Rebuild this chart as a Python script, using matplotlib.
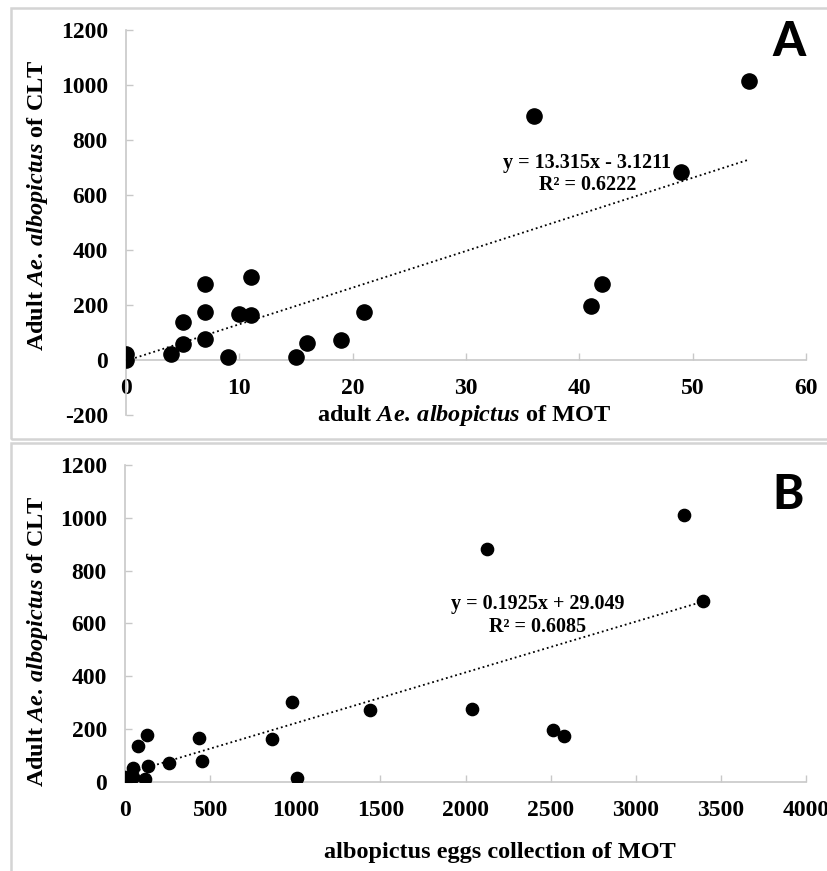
import matplotlib
matplotlib.use("Agg")
import numpy as np
import matplotlib.pyplot as plt
from matplotlib.patches import Rectangle

# panel A: adult counts of MOT vs adult counts of CLT
mot_adult = [0, 0, 4, 5, 5, 7, 7, 7, 9, 10, 11, 11, 15, 16, 19, 21, 36, 55, 49, 42, 41]
clt_adult_a = [20, 0, 20, 137, 58, 275, 175, 76, 12, 167, 303, 162, 12, 63, 72, 175,
               886, 1013, 685, 276, 195]
fit_a = (13.315, -3.1211)
eq_a = ["y = 13.315x - 3.1211", "R² = 0.6222"]

# panel B: egg collection of MOT vs adult counts of CLT
mot_eggs = [0, 0, 49, 49, 117, 137, 78, 131, 260, 435, 454, 863, 979, 1010, 1439,
            2128, 3285, 3397, 2040, 2516, 2579]
clt_adult_b = [19, 0, 53, 17, 10, 61, 135, 177, 72, 167, 78, 163, 302, 13, 273,
               883, 1009, 683, 277, 195, 173]
fit_b = (0.1925, 29.049)
eq_b = ["y = 0.1925x + 29.049", "R² = 0.6085"]

plt.rcParams['font.family'] = 'Liberation Serif'
plt.rcParams['font.weight'] = 'bold'
plt.rcParams['axes.unicode_minus'] = False
plt.rcParams['mathtext.fontset'] = 'custom'
plt.rcParams['mathtext.rm'] = 'Liberation Serif:bold'
plt.rcParams['mathtext.bf'] = 'Liberation Serif:bold'
plt.rcParams['mathtext.it'] = 'Liberation Serif:italic:bold'

W, H = 827, 871
fig = plt.figure(figsize=(W / 100, H / 100), dpi=100)

GRAY = '#d4d4d4'
SPINE = '#c8c8c8'


def px(x, y):
    return x / W, 1 - y / H


# panel frames
for (x0, y0, x1, y1) in [(11, 8, 840, 439), (11, 443, 840, 890)]:
    fig.patches.append(Rectangle(px(x0, y1), (x1 - x0) / W, (y1 - y0) / H,
                                 transform=fig.transFigure, fill=False,
                                 edgecolor=GRAY, linewidth=1.8))


def style(ax):
    for s in ['top', 'right']:
        ax.spines[s].set_visible(False)
    for s in ['left', 'bottom']:
        ax.spines[s].set_color(SPINE)
        ax.spines[s].set_linewidth(1.2)
    ax.tick_params(direction='in', length=5, width=1.0, color=SPINE,
                   labelsize=17, pad=13)
    for lab in ax.get_xticklabels() + ax.get_yticklabels():
        lab.set_fontweight('bold')


# ---- panel A
axA = fig.add_axes([126 / W, 1 - 415 / H, 680 / W, 385 / H])
axA.scatter(mot_adult, clt_adult_a, s=120, color='black', zorder=3)
xa = np.array([min(mot_adult), max(mot_adult)])
axA.plot(xa, fit_a[0] * xa + fit_a[1], color='black', linestyle=':', linewidth=1.3)
axA.set_xlim(0, 60)
axA.set_ylim(-200, 1200)
axA.set_xticks(range(0, 61, 10))
axA.set_yticks(range(-200, 1201, 200))
axA.spines['bottom'].set_position(('data', 0))
style(axA)
axA.text(40.7, 716, eq_a[0], ha='center', va='center', fontsize=14.5, fontweight='bold')
axA.text(40.7, 636, eq_a[1], ha='center', va='center', fontsize=14.5, fontweight='bold')

# ---- panel B
axB = fig.add_axes([125 / W, 1 - 781.7 / H, 681 / W, 316.7 / H])
axB.scatter(mot_eggs, clt_adult_b, s=78, color='black', zorder=3)
xb = np.array([min(mot_eggs), max(mot_eggs)])
axB.plot(xb, fit_b[0] * xb + fit_b[1], color='black', linestyle=':', linewidth=1.3)
axB.set_xlim(0, 4000)
axB.set_ylim(0, 1200)
axB.set_xticks(range(0, 4001, 500))
axB.set_yticks(range(0, 1201, 200))
style(axB)
axB.text(2426, 673, eq_b[0], ha='center', va='center', fontsize=14.5, fontweight='bold')
axB.text(2426, 586, eq_b[1], ha='center', va='center', fontsize=14.5, fontweight='bold')

# axis titles
lab_kw = dict(ha='center', va='center', fontsize=17.5, fontweight='bold')
ae = r"$\mathit{Ae.\,albopictus}$"
fig.text(*px(38, 205), "Adult " + ae + " of CLT", rotation=90, **lab_kw)
fig.text(*px(464, 415), "adult " + ae + " of MOT", **lab_kw)
fig.text(*px(38, 641), "Adult " + ae + " of CLT", rotation=90, **lab_kw)
fig.text(*px(500, 852), "albopictus eggs collection of MOT", **lab_kw)

# panel letters
for letter, (x, y) in [('A', (789, 42)), ('B', (788, 495))]:
    fig.text(*px(x, y), letter, ha='center', va='center', fontsize=34,
             family=['Lato', 'DejaVu Sans'], fontweight='black')

fig.savefig('out.png', dpi=100)
